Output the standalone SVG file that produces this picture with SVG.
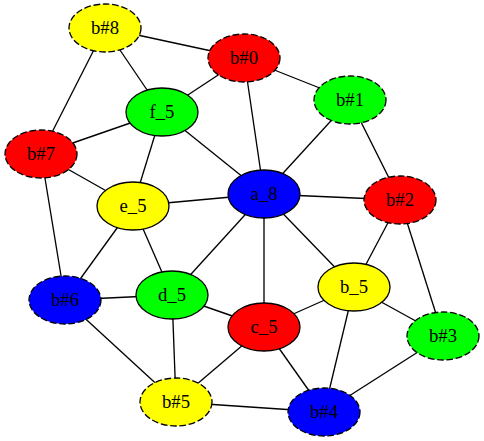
<svg xmlns="http://www.w3.org/2000/svg" width="484" height="441" viewBox="0 0 484 441">
<style>
.e{stroke:#000;stroke-width:1.33;fill:none}
.n ellipse{stroke:#000;stroke-width:1.33}
.d ellipse{stroke-dasharray:6.67,2.67}
.n text{font-family:"Liberation Serif","Times New Roman",serif;font-size:18.67px;text-anchor:middle;fill:#000}
.r{fill:#ff0000}.g{fill:#00ff00}.b{fill:#0000ff}.y{fill:#ffff00}
</style>
<rect width="484" height="441" fill="#fff"/>
<g id="edges">
<line class="e" x1="105" y1="28" x2="244" y2="58"/>
<line class="e" x1="105" y1="28" x2="162" y2="112"/>
<line class="e" x1="105" y1="28" x2="41" y2="154"/>
<line class="e" x1="244" y1="58" x2="162" y2="112"/>
<line class="e" x1="244" y1="58" x2="264" y2="194"/>
<line class="e" x1="244" y1="58" x2="350" y2="100"/>
<line class="e" x1="350" y1="100" x2="264" y2="194"/>
<line class="e" x1="350" y1="100" x2="400" y2="200"/>
<line class="e" x1="41" y1="154" x2="162" y2="112"/>
<line class="e" x1="41" y1="154" x2="133" y2="206"/>
<line class="e" x1="41" y1="154" x2="65" y2="300"/>
<line class="e" x1="162" y1="112" x2="133" y2="206"/>
<line class="e" x1="162" y1="112" x2="264" y2="194"/>
<line class="e" x1="133" y1="206" x2="264" y2="194"/>
<line class="e" x1="133" y1="206" x2="65" y2="300"/>
<line class="e" x1="133" y1="206" x2="172" y2="295"/>
<line class="e" x1="264" y1="194" x2="400" y2="200"/>
<line class="e" x1="264" y1="194" x2="172" y2="295"/>
<line class="e" x1="264" y1="194" x2="264" y2="327"/>
<line class="e" x1="264" y1="194" x2="354" y2="287"/>
<line class="e" x1="400" y1="200" x2="354" y2="287"/>
<line class="e" x1="400" y1="200" x2="443" y2="336"/>
<line class="e" x1="65" y1="300" x2="172" y2="295"/>
<line class="e" x1="65" y1="300" x2="176" y2="402"/>
<line class="e" x1="172" y1="295" x2="264" y2="327"/>
<line class="e" x1="172" y1="295" x2="176" y2="402"/>
<line class="e" x1="264" y1="327" x2="354" y2="287"/>
<line class="e" x1="264" y1="327" x2="176" y2="402"/>
<line class="e" x1="264" y1="327" x2="324" y2="412"/>
<line class="e" x1="354" y1="287" x2="443" y2="336"/>
<line class="e" x1="354" y1="287" x2="324" y2="412"/>
<line class="e" x1="443" y1="336" x2="324" y2="412"/>
<line class="e" x1="176" y1="402" x2="324" y2="412"/>
</g>
<g id="b8" class="n d"><ellipse class="y" cx="105" cy="28" rx="36" ry="24"/><text x="105" y="34">b#8</text></g>
<g id="b0" class="n d"><ellipse class="r" cx="244" cy="58" rx="36" ry="24"/><text x="244" y="64">b#0</text></g>
<g id="f5" class="n"><ellipse class="g" cx="162" cy="112" rx="36" ry="24"/><text x="162" y="118">f_5</text></g>
<g id="b1" class="n d"><ellipse class="g" cx="350" cy="100" rx="36" ry="24"/><text x="350" y="106">b#1</text></g>
<g id="b7" class="n d"><ellipse class="r" cx="41" cy="154" rx="36" ry="24"/><text x="41" y="160">b#7</text></g>
<g id="a8" class="n"><ellipse class="b" cx="264" cy="194" rx="36" ry="24"/><text x="264" y="200">a_8</text></g>
<g id="b2" class="n d"><ellipse class="r" cx="400" cy="200" rx="36" ry="24"/><text x="400" y="206">b#2</text></g>
<g id="e5" class="n"><ellipse class="y" cx="133" cy="206" rx="36" ry="24"/><text x="133" y="212">e_5</text></g>
<g id="d5" class="n"><ellipse class="g" cx="172" cy="295" rx="36" ry="24"/><text x="172" y="301">d_5</text></g>
<g id="b6" class="n d"><ellipse class="b" cx="65" cy="300" rx="36" ry="24"/><text x="65" y="306">b#6</text></g>
<g id="b_5" class="n"><ellipse class="y" cx="354" cy="287" rx="36" ry="24"/><text x="354" y="293">b_5</text></g>
<g id="c5" class="n"><ellipse class="r" cx="264" cy="327" rx="36" ry="24"/><text x="264" y="333">c_5</text></g>
<g id="b3" class="n d"><ellipse class="g" cx="443" cy="336" rx="36" ry="24"/><text x="443" y="342">b#3</text></g>
<g id="b5" class="n d"><ellipse class="y" cx="176" cy="402" rx="36" ry="24"/><text x="176" y="408">b#5</text></g>
<g id="b4" class="n d"><ellipse class="b" cx="324" cy="412" rx="36" ry="24"/><text x="324" y="418">b#4</text></g>
</svg>
